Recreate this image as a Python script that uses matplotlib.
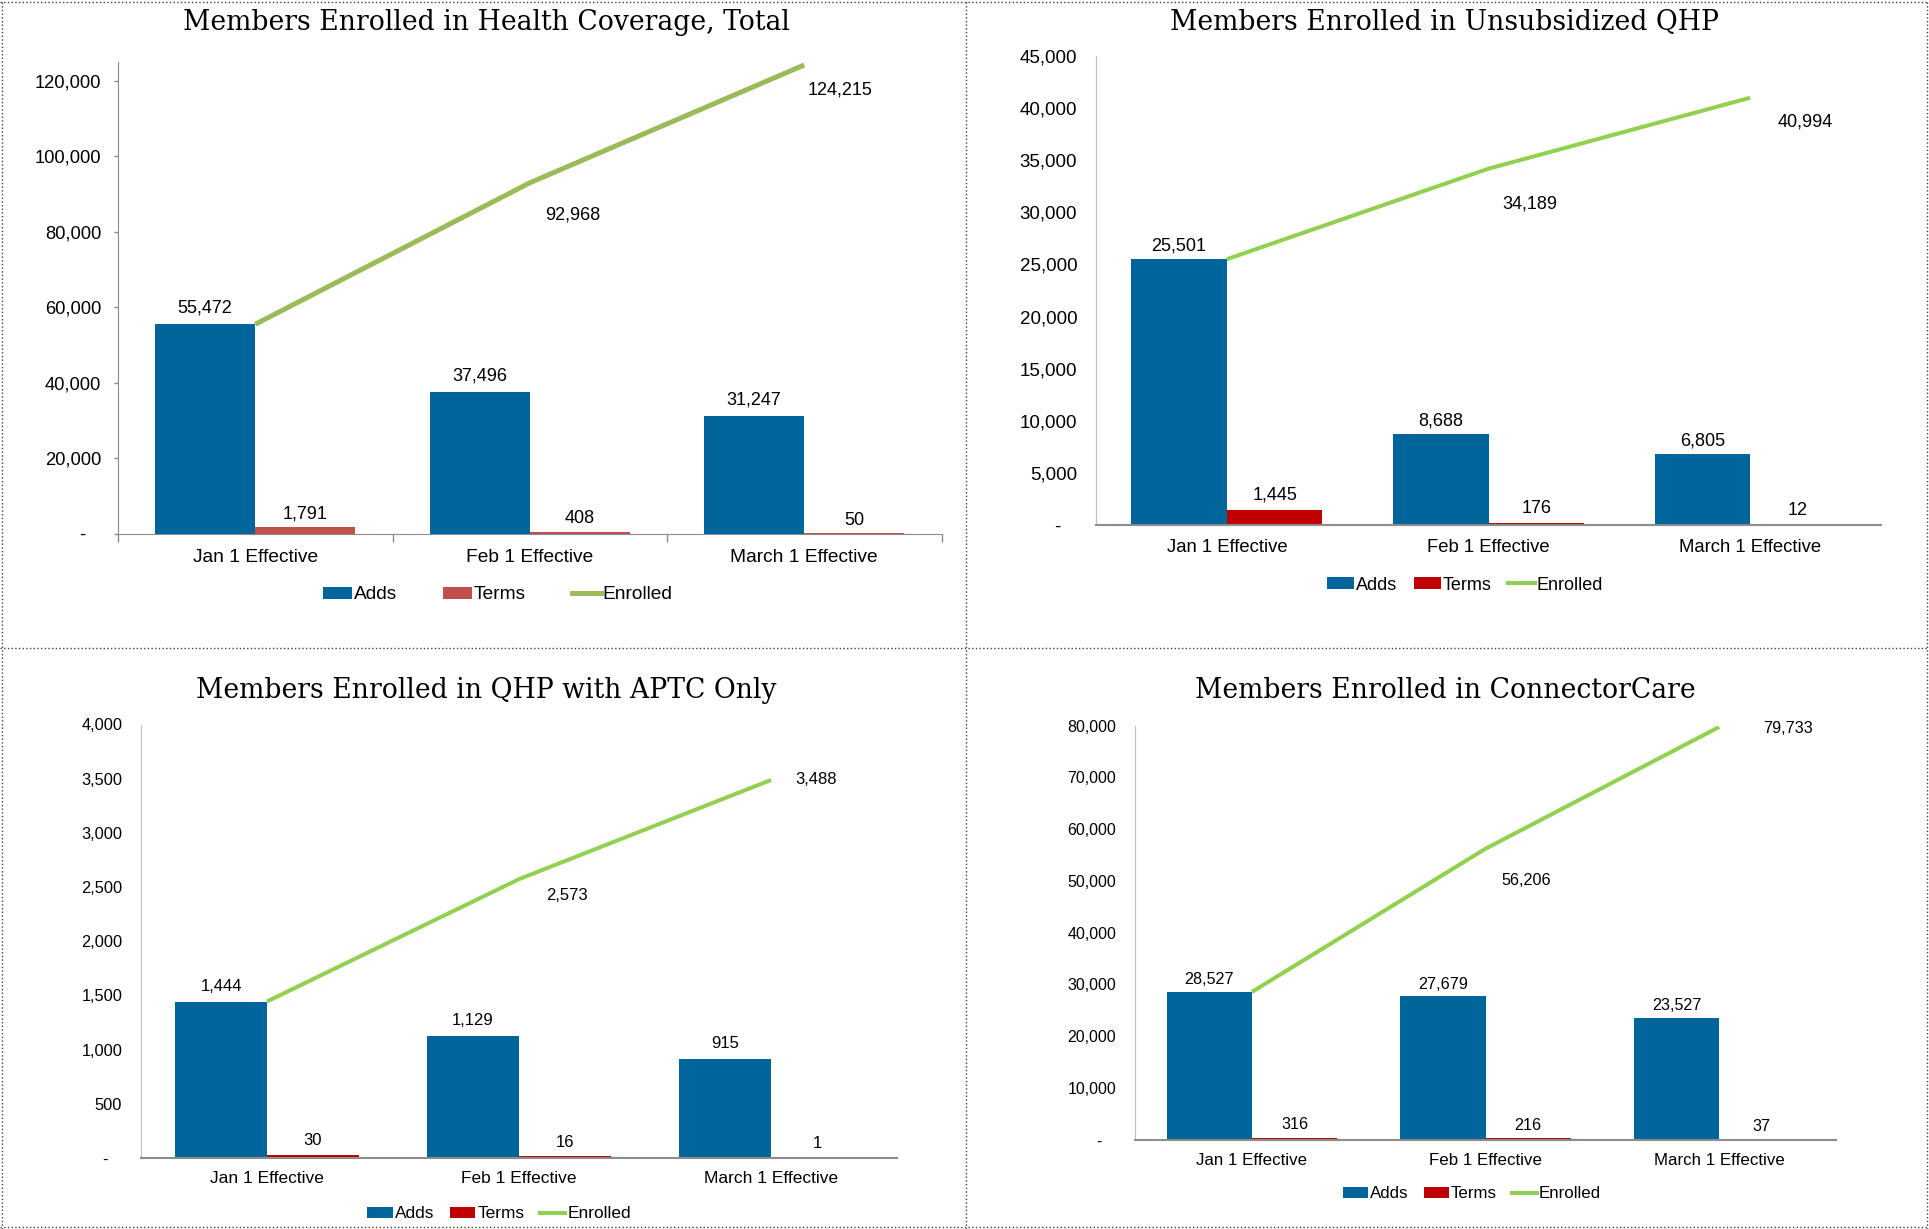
import numpy as np
import matplotlib.pyplot as plt
from matplotlib.lines import Line2D
from matplotlib.patches import Patch
from matplotlib.ticker import FuncFormatter

plt.rcParams['font.family'] = ['Liberation Sans', 'DejaVu Sans']

# data
categories = ['Jan 1 Effective', 'Feb 1 Effective', 'March 1 Effective']
series_names = ['Adds', 'Terms', 'Enrolled']

titles = ['Members Enrolled in Health Coverage, Total',
          'Members Enrolled in Unsubsidized QHP',
          'Members Enrolled in QHP with APTC Only',
          'Members Enrolled in ConnectorCare']

total_adds = [55472, 37496, 31247]
total_terms = [1791, 408, 50]
total_enrolled = [55472, 92968, 124215]

unsub_adds = [25501, 8688, 6805]
unsub_terms = [1445, 176, 12]
unsub_enrolled = [25501, 34189, 40994]

aptc_adds = [1444, 1129, 915]
aptc_terms = [30, 16, 1]
aptc_enrolled = [1444, 2573, 3488]

cc_adds = [28527, 27679, 23527]
cc_terms = [316, 216, 37]
cc_enrolled = [28527, 56206, 79733]

W, H = 1929, 1229
PT = 0.72  # points per pixel at dpi 100
BLUE = '#00659A'


def px_rect(l, t, r, b):
    return [l / W, 1 - b / H, (r - l) / W, (b - t) / H]


# layout per panel, all in pixels of the 1929x1229 picture
panels = [
    dict(adds=total_adds, terms=total_terms, enrolled=total_enrolled, title=titles[0],
         rect=(118, 62, 941.5, 533.5), ymax=125000, step=20000,
         title_xy=(486, 23), legend_xy=(498, 595),
         terms_color='#C0504D', line_color='#9BBB59', lw=3.6,
         fs_tick=13.2, fs_cat=13.8, fs_leg=13.8, fs_val=13.0,
         xpad=11.5, adds_gap=16, terms_gap=13, enr_off=[(43, 32), (36, 25)], colsp=2.4, ticks=True),
    dict(adds=unsub_adds, terms=unsub_terms, enrolled=unsub_enrolled, title=titles[1],
         rect=(1096, 56, 1881, 525), ymax=45000, step=5000,
         title_xy=(1445, 23), legend_xy=(1465, 585),
         terms_color='#C00000', line_color='#92D050', lw=2.9,
         fs_tick=13.5, fs_cat=13.3, fs_leg=13.0, fs_val=13.0,
         xpad=10, adds_gap=13, terms_gap=14.5, enr_off=[(41, 35), (55, 24)], colsp=0.9, ticks=False),
    dict(adds=aptc_adds, terms=aptc_terms, enrolled=aptc_enrolled, title=titles[2],
         rect=(141, 724.5, 897, 1158), ymax=4000, step=500,
         title_xy=(486, 691), legend_xy=(499, 1214),
         terms_color='#C00000', line_color='#92D050', lw=2.9,
         fs_tick=11.8, fs_cat=12.5, fs_leg=12.4, fs_val=12.0,
         xpad=9.7, adds_gap=15, terms_gap=14, enr_off=[(48, 16), (45, 0)], colsp=0.9, ticks=False),
    dict(adds=cc_adds, terms=cc_terms, enrolled=cc_enrolled, title=titles[3],
         rect=(1135, 725.6, 1836, 1139.6), ymax=80000, step=10000,
         title_xy=(1445, 691), legend_xy=(1472, 1194),
         terms_color='#C00000', line_color='#92D050', lw=2.9,
         fs_tick=11.5, fs_cat=12.2, fs_leg=12.2, fs_val=11.6,
         xpad=9.4, adds_gap=12, terms_gap=13, enr_off=[(41, 32), (69, 2)], colsp=0.9, ticks=False),
]

fig = plt.figure(figsize=(W / 100, H / 100), dpi=100)
fig.patch.set_facecolor('white')

bw = 0.365
x = np.arange(len(categories))

for p in panels:
    ax = fig.add_axes(px_rect(*p['rect']))
    ax.bar(x - bw / 2, p['adds'], bw, color=BLUE, zorder=2)
    ax.bar(x + bw / 2, p['terms'], bw, color=p['terms_color'], zorder=2)
    ax.plot(x, p['enrolled'], color=p['line_color'], lw=p['lw'], solid_capstyle='butt', zorder=3)

    ax.set_xlim(-0.5, 2.5)
    ax.set_ylim(0, p['ymax'])
    ax.set_yticks(np.arange(0, p['ymax'] + 1, p['step']))
    ax.yaxis.set_major_formatter(FuncFormatter(lambda v, pos: '-   ' if v == 0 else f'{int(v):,}'))
    ax.set_xticks(x)
    ax.set_xticklabels(categories, fontsize=p['fs_cat'])

    for s in ['top', 'right']:
        ax.spines[s].set_visible(False)
    if p['ticks']:
        ax.spines['left'].set_color('#8C8C8C')
        ax.spines['bottom'].set_color('#8C8C8C')
        ax.tick_params(axis='y', length=3, width=1, color='#8C8C8C', pad=9, labelsize=p['fs_tick'])
        ax.set_xticks([-0.5, 0.5, 1.5, 2.5], minor=True)
        ax.tick_params(axis='x', which='minor', length=5.4, width=1, color='#8C8C8C')
        ax.tick_params(axis='x', which='major', length=0, pad=p['xpad'])
    else:
        ax.spines['left'].set_color('#BFBFBF')
        ax.spines['bottom'].set_color('#8C8C8C')
        ax.spines['bottom'].set_linewidth(1.5)
        ax.tick_params(axis='y', length=0, pad=13.5, labelsize=p['fs_tick'])
        ax.tick_params(axis='x', length=0, pad=p['xpad'])

    # value labels
    for i in range(len(categories)):
        ax.annotate(f"{p['adds'][i]:,}", (x[i] - bw / 2, p['adds'][i]),
                    xytext=(0, p['adds_gap'] * PT), textcoords='offset points',
                    ha='center', va='center', fontsize=p['fs_val'])
        ax.annotate(f"{p['terms'][i]:,}", (x[i] + bw / 2, p['terms'][i]),
                    xytext=(0, p['terms_gap'] * PT), textcoords='offset points',
                    ha='center', va='center', fontsize=p['fs_val'])
    for i, (dx, dy) in zip([1, 2], p['enr_off']):
        ax.annotate(f"{p['enrolled'][i]:,}", (x[i], p['enrolled'][i]),
                    xytext=(dx * PT, -dy * PT), textcoords='offset points',
                    ha='center', va='center', fontsize=p['fs_val'])

    tx, ty = p['title_xy']
    fig.text(tx / W, 1 - ty / H, p['title'], ha='center', va='center',
             family='DejaVu Serif', fontsize=19.2)

    handles = [Patch(facecolor=BLUE), Patch(facecolor=p['terms_color']),
               Line2D([], [], color=p['line_color'], lw=p['lw'])]
    lx, ly = p['legend_xy']
    fig.legend(handles, series_names, loc='center', bbox_to_anchor=(lx / W, 1 - ly / H),
               ncol=3, frameon=False, fontsize=p['fs_leg'], handlelength=1.5,
               handleheight=0.6, handletextpad=0.1, columnspacing=p['colsp'])

# dotted frame and dividers
dot = dict(color='#404040', lw=1, ls=':')
fig.add_artist(Line2D([966 / W, 966 / W], [0, 1], **dot))
fig.add_artist(Line2D([0, 1], [1 - 648 / H, 1 - 648 / H], **dot))
for xs, ys in [([2 / W, 2 / W], [0, 1]), ([1 - 2 / W, 1 - 2 / W], [0, 1]),
               ([0, 1], [1 - 2 / H, 1 - 2 / H]), ([0, 1], [2 / H, 2 / H])]:
    fig.add_artist(Line2D(xs, ys, **dot))

fig.savefig('out.png', dpi=100)
